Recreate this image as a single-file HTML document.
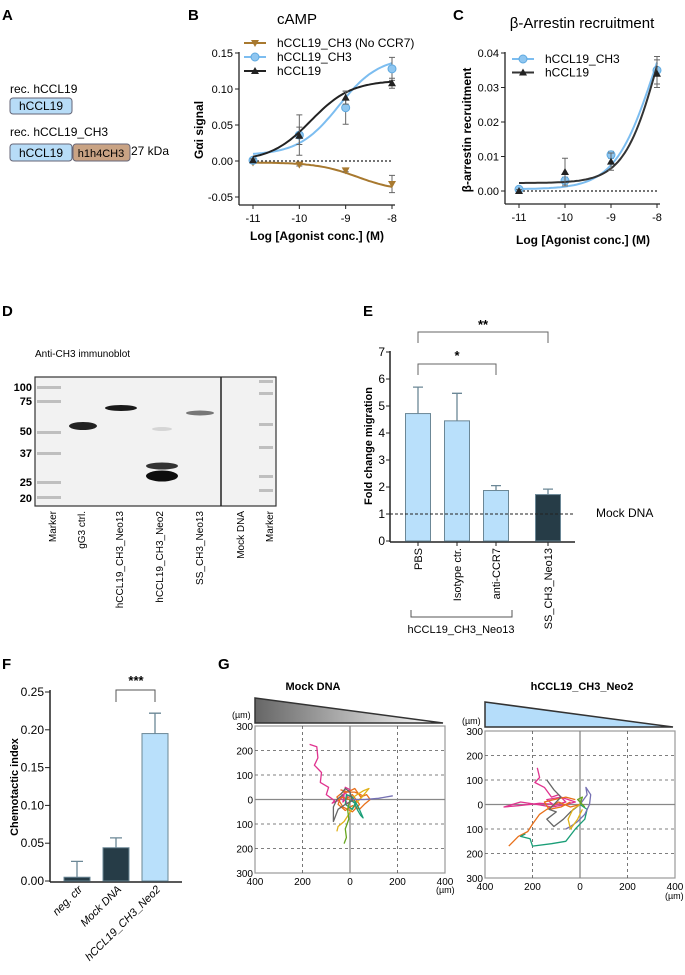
<!DOCTYPE html>
<html><head><meta charset="utf-8"><style>
html,body{margin:0;padding:0;background:#fff;overflow:hidden;}
svg{display:block;font-family:"Liberation Sans",Arial,sans-serif;}
</style></head><body>
<svg id="fig" width="685" height="975" viewBox="0 0 685 975">
<defs>
<linearGradient id="grayGrad" x1="0" x2="1" y1="0" y2="0"><stop offset="0" stop-color="#666"/><stop offset="1" stop-color="#fff"/></linearGradient>
</defs>
<g font-weight="bold" font-size="15">
<text x="2" y="20">A</text><text x="188" y="20">B</text><text x="453" y="20">C</text>
<text x="2" y="316">D</text><text x="363" y="316">E</text>
<text x="2" y="669">F</text><text x="218" y="669">G</text>
</g>
<!-- Panel A -->
<g font-size="12">
<text x="10" y="93">rec. hCCL19</text>
<rect x="10" y="98" width="62" height="16" rx="3" fill="#b7dcf7" stroke="#667" stroke-width="1"/>
<text x="41" y="110" text-anchor="middle">hCCL19</text>
<text x="10" y="136">rec. hCCL19_CH3</text>
<rect x="10" y="144" width="62" height="17" rx="3" fill="#b7dcf7" stroke="#667"/>
<text x="41" y="157" text-anchor="middle">hCCL19</text>
<rect x="73" y="144" width="57" height="17" rx="3" fill="#c9a384" stroke="#667"/>
<text x="101" y="157" text-anchor="middle" font-size="11">h1h4CH3</text>
<text x="131" y="155">27 kDa</text>
</g>
<!-- Panel B -->
<g id="panelB">
<text x="297" y="24" font-size="15" text-anchor="middle">cAMP</text>
<text transform="translate(203,130) rotate(-90)" text-anchor="middle" font-size="12" font-weight="bold">Gαi signal</text>
<text x="317" y="240" text-anchor="middle" font-size="12" font-weight="bold">Log [Agonist conc.] (M)</text>
</g>
<!-- Panel C -->
<g id="panelC">
<text x="582" y="28" font-size="15" text-anchor="middle">β-Arrestin recruitment</text>
<text transform="translate(471,130) rotate(-90)" text-anchor="middle" font-size="12" font-weight="bold">β-arrestin recruitment</text>
<text x="583" y="244" text-anchor="middle" font-size="12" font-weight="bold">Log [Agonist conc.] (M)</text>
</g>
<!-- Panel D -->
<g>
<text x="35" y="357" font-size="10">Anti-CH3 immunoblot</text>
<rect x="35" y="377" width="241" height="129" fill="#f2f2f2" stroke="#333" stroke-width="1.2"/>
<line x1="221" y1="377" x2="221" y2="506" stroke="#222" stroke-width="1.5"/>
<g fill="#aaa" opacity="0.7">
<rect x="37" y="386" width="24" height="3"/><rect x="37" y="400" width="24" height="3"/><rect x="37" y="431" width="24" height="3"/><rect x="37" y="452" width="24" height="3"/><rect x="37" y="481" width="24" height="3"/><rect x="37" y="496" width="24" height="3"/>
<rect x="259" y="380" width="14" height="3"/><rect x="259" y="392" width="14" height="3"/><rect x="259" y="423" width="14" height="3"/><rect x="259" y="446" width="14" height="3"/><rect x="259" y="475" width="14" height="3"/><rect x="259" y="489" width="14" height="3"/>
</g>
<ellipse cx="83" cy="426" rx="14" ry="4" fill="#222"/>
<ellipse cx="121" cy="408" rx="16" ry="3" fill="#1a1a1a"/>
<ellipse cx="162" cy="466" rx="16" ry="3.5" fill="#333"/>
<ellipse cx="162" cy="476" rx="16" ry="5.5" fill="#0d0d0d"/>
<ellipse cx="162" cy="429" rx="10" ry="2" fill="#d5d5d5"/>
<ellipse cx="200" cy="413" rx="14" ry="2.5" fill="#777"/>
<g font-size="11" font-weight="bold" text-anchor="end">
<text x="32" y="391">100</text><text x="32" y="405">75</text><text x="32" y="435">50</text><text x="32" y="457">37</text><text x="32" y="486">25</text><text x="32" y="502">20</text>
</g>
<g font-size="10" text-anchor="end">
<text transform="translate(56,511) rotate(-90)">Marker</text>
<text transform="translate(85,511) rotate(-90)">gG3 ctrl.</text>
<text transform="translate(123,511) rotate(-90)">hCCL19_CH3_Neo13</text>
<text transform="translate(163,511) rotate(-90)">hCCL19_CH3_Neo2</text>
<text transform="translate(203,511) rotate(-90)">SS_CH3_Neo13</text>
<text transform="translate(244,511) rotate(-90)">Mock DNA</text>
<text transform="translate(273,511) rotate(-90)">Marker</text>
</g>
</g>
<!-- Panel E -->
<g id="panelE">
<text transform="translate(372,446) rotate(-90)" text-anchor="middle" font-size="11" font-weight="bold">Fold change migration</text>
<text x="596" y="517" font-size="12">Mock DNA</text>
<path d="M411,610 V617 H512 V610" fill="none" stroke="#555"/>
<text x="461" y="633" font-size="11" text-anchor="middle">hCCL19_CH3_Neo13</text>
</g>
<!-- Panel F -->
<g id="panelF">
<text transform="translate(18,787) rotate(-90)" text-anchor="middle" font-size="11" font-weight="bold">Chemotactic index</text>
</g>
<!-- Panel G -->
<g id="panelG">
<text x="313" y="690" font-size="11" font-weight="bold" text-anchor="middle">Mock DNA</text>
<text x="582" y="690" font-size="11" font-weight="bold" text-anchor="middle">hCCL19_CH3_Neo2</text>
<polygon points="255,698 443,723 255,723" fill="url(#grayGrad)" stroke="#333" stroke-width="1.5"/>
<polygon points="485,702 673,727 485,727" fill="#b5ddfa" stroke="#333" stroke-width="1.5"/>
<text x="232" y="718" font-size="9">(µm)</text>
<text x="462" y="724" font-size="9">(µm)</text>
<text x="436" y="893" font-size="9">(µm)</text>
<text x="665" y="899" font-size="9">(µm)</text>
</g>
</svg>
<script>
const NS='http://www.w3.org/2000/svg';
function mk(parent,tag,attrs,text){const e=document.createElementNS(NS,tag);for(const k in attrs)e.setAttribute(k,attrs[k]);if(text!==undefined)e.textContent=text;parent.appendChild(e);return e;}

// ---------- Panel B data ----------
const bLogs=[-11,-10,-9,-8];
const bCCL19=[0.001,0.035,0.088,0.108];
const bCCL19Err=[0.002,0.012,0.009,0.007];
const bCH3=[0.001,0.036,0.074,0.128];
const bCH3Err=[0.002,0.028,0.023,0.016];
const bNoCCR7=[-0.002,-0.005,-0.013,-0.032];
const bNoCCR7Err=[0.001,0.002,0.002,0.012];
const bYTicks=[0.15,0.10,0.05,0.00,-0.05];
const bYTickLabels=['0.15','0.10','0.05','0.00','-0.05'];
const bFitCCL19=[0,0.112,-9.75,1.0];
const bFitCH3=[0.008,0.145,-9.15,1.0];
const bFitNoCCR7=[-0.002,-0.042,-8.75,1.0];

// ---------- Panel C data ----------
const cLogs=[-11,-10,-9,-8];
const cCH3=[0.0005,0.003,0.0105,0.035];
const cCH3Err=[0.0005,0.001,0.001,0.004];
const cCCL19=[0.0,0.0055,0.0085,0.034];
const cCCL19Err=[0.0004,0.004,0.0025,0.004];
const cYTicks=[0.04,0.03,0.02,0.01,0.00];
const cYTickLabels=['0.04','0.03','0.02','0.01','0.00'];
const cFitCH3=[0.0005,0.07,-8.05,1.0];
const cFitCCL19=[0.0023,0.075,-7.95,1.15];

// ---------- Panel E data ----------
const eCats=['PBS','Isotype ctr.','anti-CCR7','SS_CH3_Neo13'];
const eVals=[4.72,4.45,1.87,1.72];
const eErrs=[0.98,1.02,0.18,0.2];
const eYTicks=[0,1,2,3,4,5,6,7];

// ---------- Panel F data ----------
const fCats=['neg. ctr','Mock DNA','hCCL19_CH3_Neo2'];
const fVals=[0.005,0.044,0.195];
const fErrs=[0.021,0.013,0.027];
const fYTicks=[0,0.05,0.10,0.15,0.20,0.25];
const fYTickLabels=['0.00','0.05','0.10','0.15','0.20','0.25'];

// ---------- Panel G track data (µm, x right, y up) ----------
const gMockTracks=[
 {c:'#e0338f',p:[[-170,225],[-140,215],[-135,170],[-150,140],[-120,110],[-125,70],[-90,50],[-100,20],[-65,-5],[-75,-15],[-40,0],[-20,30],[-10,10],[-30,-10],[-20,50],[0,40],[-30,20],[-10,-20]]},
 {c:'#e8701a',p:[[-40,40],[-10,30],[20,45],[45,10],[70,20],[85,0],[60,-20],[40,-40],[10,-25],[-20,-45],[-50,-20],[-40,10],[0,0],[30,-10],[55,15],[20,30],[-30,30],[-55,10],[-30,-30],[10,-50],[40,-20],[10,20],[-20,0]]},
 {c:'#e0b21a',p:[[0,0],[30,20],[55,35],[80,45],[50,10],[20,-20],[-5,-60],[-25,-90],[-50,-110],[-55,-130]]},
 {c:'#1a9e77',p:[[0,0],[20,-15],[30,-40],[45,-65],[55,-75],[35,-30],[10,10],[-15,20],[-20,-20],[10,-40],[25,-10]]},
 {c:'#66a61e',p:[[0,0],[-10,-40],[-5,-80],[-20,-120],[-15,-155],[-25,-180]]},
 {c:'#7570b3',p:[[0,0],[60,0],[120,5],[180,15]]},
 {c:'#666666',p:[[-30,20],[-55,0],[-70,-30],[-70,-90],[-50,-40],[-20,-20],[10,-5],[0,30],[-20,45],[-40,20]]}];
const gNeoTracks=[
 {c:'#e0338f',p:[[-180,150],[-170,110],[-190,90],[-150,70],[-120,30],[-90,40],[-60,10],[-100,0],[-170,5],[-260,-5],[-320,-10],[-250,10],[-180,0],[-120,-10],[-60,0],[-20,10],[-80,30],[-140,20],[-100,-10]]},
 {c:'#e8701a',p:[[0,0],[-40,-10],[-90,10],[-140,-20],[-170,-40],[-200,-80],[-220,-110],[-260,-130],[-280,-150],[-300,-170]]},
 {c:'#e8701a',p:[[-20,20],[-60,30],[-110,20],[-150,10],[-130,-20],[-80,-10],[-40,10]]},
 {c:'#1a9e77',p:[[0,0],[30,-20],[20,-60],[0,-80],[-20,-100],[-60,-150],[-120,-160],[-200,-170],[-210,-140],[-250,-130],[-230,-120]]},
 {c:'#7570b3',p:[[0,0],[30,40],[25,70],[45,40],[40,0],[20,-40],[-10,-70],[-40,-90],[-60,-100]]},
 {c:'#666666',p:[[-140,100],[-110,60],[-80,30],[-130,-20],[-100,-30],[-140,-60],[-110,-90],[-70,-60],[-40,-30],[0,0]]},
 {c:'#e0b21a',p:[[0,0],[-30,-20],[-50,-60],[-40,-100],[-10,-60],[10,-20]]},
 {c:'#66a61e',p:[[0,0],[10,30],[-10,20],[20,-10]]}];
const gXTickLabels=['400','200','0','200','400'];
const gYTickLabels=['300','200','100','0','100','200','300'];

function sig(f,x){return f[0]+(f[1]-f[0])/(1+Math.pow(10,(f[2]-x)*f[3]));}

function lineChart(g,cfg){
 const xs=v=>cfg.x0+(v-(-11))/3*(cfg.x1-cfg.x0);
 const ys=v=>cfg.y0+(cfg.yMax-v)/(cfg.yMax-cfg.yMin)*(cfg.y1-cfg.y0);
 const ya=mk(g,'line',{x1:cfg.ax,y1:cfg.axTop,x2:cfg.ax,y2:cfg.axBot,stroke:'#222','stroke-width':1.3});
 
 
 const xa=mk(g,'line',{x1:cfg.ax,y1:cfg.axBot,x2:cfg.x1+3,y2:cfg.axBot,stroke:'#222','stroke-width':1.3});
 
 
 cfg.yTicks.forEach((t,i)=>{const y=ys(t);mk(g,'line',{x1:cfg.ax-4,y1:y,x2:cfg.ax,y2:y,stroke:'#222'});
  const tl=mk(g,'text',{x:cfg.ax-6,y:y+4,'text-anchor':'end','font-size':11},cfg.yLabels[i]);
  
  });
 bLogs.forEach(v=>{const x=xs(v);mk(g,'line',{x1:x,y1:cfg.axBot,x2:x,y2:cfg.axBot+4,stroke:'#222'});
  const tl=mk(g,'text',{x:x,y:cfg.axBot+17,'text-anchor':'middle','font-size':11},String(v));
  
  });
 mk(g,'line',{x1:cfg.x0,y1:ys(0),x2:cfg.x1,y2:ys(0),stroke:'#222','stroke-dasharray':'2,2','stroke-width':1.2});
 cfg.series.forEach(s=>{
  let d='';for(let i=0;i<=60;i++){const v=-11+3*i/60;d+=(i?'L':'M')+xs(v).toFixed(1)+','+ys(sig(s.fit,v)).toFixed(1);}
  const p=mk(g,'path',{d:d,fill:'none',stroke:s.color,'stroke-width':2});
  
  
  s.vals.forEach((v,i)=>{const x=xs(bLogs[i]),y=ys(v),e=s.err[i];
   mk(g,'path',{d:`M${x},${ys(v+e)}V${ys(v-e)}M${x-3},${ys(v+e)}H${x+3}M${x-3},${ys(v-e)}H${x+3}`,stroke:'#666','stroke-width':1,fill:'none'});
   let m;
   if(s.marker==='circle')m=mk(g,'circle',{cx:x,cy:y,r:4,fill:'#8fc6f0',stroke:'#5ea9e0'});
   else if(s.marker==='tri')m=mk(g,'polygon',{points:`${x},${y-4} ${x-4},${y+3} ${x+4},${y+3}`,fill:'#222'});
   else m=mk(g,'polygon',{points:`${x},${y+4} ${x-4},${y-3} ${x+4},${y-3}`,fill:s.color});
   
   
  });
 });
 cfg.series.forEach((s,i)=>{const ly=cfg.legY+i*cfg.legDy;
  const lg=mk(g,'g',{});
  
  
  mk(lg,'line',{x1:cfg.legX,y1:ly,x2:cfg.legX+22,y2:ly,stroke:s.color,'stroke-width':2});
  const x=cfg.legX+11;
  if(s.marker==='circle')mk(lg,'circle',{cx:x,cy:ly,r:4,fill:'#8fc6f0',stroke:'#5ea9e0'});
  else if(s.marker==='tri')mk(lg,'polygon',{points:`${x},${ly-4} ${x-4},${ly+3} ${x+4},${ly+3}`,fill:'#222'});
  else mk(lg,'polygon',{points:`${x},${ly+4} ${x-4},${ly-3} ${x+4},${ly-3}`,fill:s.color});
  mk(lg,'text',{x:cfg.legX+33,y:ly+4,'font-size':12},s.label);
 });
}
lineChart(document.getElementById('panelB'),{x0:253,x1:392,y0:53,y1:197,yMax:0.15,yMin:-0.05,ax:239,axTop:52,axBot:205,
 yTicks:bYTicks,yLabels:bYTickLabels,legX:244,legY:43,legDy:14,
 series:[{name:'hccl19-ch3-no-ccr7',label:'hCCL19_CH3 (No CCR7)',vals:bNoCCR7,err:bNoCCR7Err,fit:bFitNoCCR7,color:'#a8792f',marker:'down'},
 {name:'hccl19-ch3',label:'hCCL19_CH3',vals:bCH3,err:bCH3Err,fit:bFitCH3,color:'#7cbdf0',marker:'circle'},
 {name:'hccl19',label:'hCCL19',vals:bCCL19,err:bCCL19Err,fit:bFitCCL19,color:'#222',marker:'tri'}]});
lineChart(document.getElementById('panelC'),{x0:519,x1:657,y0:53,y1:191,yMax:0.04,yMin:0,ax:505,axTop:52,axBot:204,
 yTicks:cYTicks,yLabels:cYTickLabels,legX:512,legY:59,legDy:13.5,
 series:[{name:'arrestin-hccl19-ch3',label:'hCCL19_CH3',vals:cCH3,err:cCH3Err,fit:cFitCH3,color:'#7cbdf0',marker:'circle'},
 {name:'arrestin-hccl19',label:'hCCL19',vals:cCCL19,err:cCCL19Err,fit:cFitCCL19,color:'#333',marker:'tri'}]});

// Panel E
(function(){const g=document.getElementById('panelE');
 const ys=v=>541-v/7*189;const cx=[418,457,496,548];
 const ya=mk(g,'line',{x1:390,y1:351,x2:390,y2:542,stroke:'#222','stroke-width':1.5});
 
 
 const xa=mk(g,'line',{x1:390,y1:542,x2:575,y2:542,stroke:'#222','stroke-width':1.5});
 
 
 eYTicks.forEach(t=>{mk(g,'line',{x1:386,y1:ys(t),x2:390,y2:ys(t),stroke:'#222'});
  const tl=mk(g,'text',{x:385,y:ys(t)+4,'text-anchor':'end','font-size':12},String(t));
  
  });
 eVals.forEach((v,i)=>{const x=cx[i];
  mk(g,'path',{d:`M${x},${ys(v)}V${ys(v+eErrs[i])}M${x-5},${ys(v+eErrs[i])}H${x+5}`,stroke:'#6b8796','stroke-width':1.3,fill:'none'});
  const b=mk(g,'rect',{x:x-12.5,y:ys(v),width:25,height:ys(0)-ys(v),fill:i===3?'#263c47':'#b9e0fb',stroke:'#6b8796','stroke-width':1});
  
  
  mk(g,'line',{x1:x,y1:542,x2:x,y2:546,stroke:'#222'});
  const tl=mk(g,'text',{transform:`translate(${x+4},548) rotate(-90)`,'text-anchor':'end','font-size':11},eCats[i]);
  
  
 });
 mk(g,'line',{x1:390,y1:ys(1),x2:575,y2:ys(1),stroke:'#222','stroke-dasharray':'3,2'});
 mk(g,'path',{d:`M${cx[0]},375V364H${cx[2]}V375`,fill:'none',stroke:'#666'});
 mk(g,'text',{x:457,y:360,'text-anchor':'middle','font-size':13,'font-weight':'bold'},'*');
 mk(g,'path',{d:`M${cx[0]},343V332H${cx[3]}V343`,fill:'none',stroke:'#666'});
 mk(g,'text',{x:483,y:329,'text-anchor':'middle','font-size':13,'font-weight':'bold'},'**');
})();

// Panel F
(function(){const g=document.getElementById('panelF');
 const ys=v=>881-v/0.25*189;const cx=[77,116,155];
 const ya=mk(g,'line',{x1:50,y1:690,x2:50,y2:882,stroke:'#222','stroke-width':1.5});
 
 
 const xa=mk(g,'line',{x1:50,y1:882,x2:182,y2:882,stroke:'#222','stroke-width':1.5});
 
 
 fYTicks.forEach((t,i)=>{mk(g,'line',{x1:45,y1:ys(t),x2:50,y2:ys(t),stroke:'#222'});
  const tl=mk(g,'text',{x:44,y:ys(t)+4,'text-anchor':'end','font-size':12},fYTickLabels[i]);
  
  });
 fVals.forEach((v,i)=>{const x=cx[i];
  mk(g,'path',{d:`M${x},${ys(v)}V${ys(v+fErrs[i])}M${x-6},${ys(v+fErrs[i])}H${x+6}`,stroke:'#6b8796','stroke-width':1.3,fill:'none'});
  const b=mk(g,'rect',{x:x-13,y:ys(v),width:26,height:ys(0)-ys(v),fill:i===2?'#b9e0fb':'#263c47',stroke:'#6b8796'});
  
  
  const tl=mk(g,'text',{transform:`translate(${x+6},890) rotate(-45)`,'text-anchor':'end','font-size':11,'font-style':'italic'},fCats[i]);
  
  
 });
 mk(g,'path',{d:`M116,702V690H155V702`,fill:'none',stroke:'#555'});
 mk(g,'text',{x:136,y:685,'text-anchor':'middle','font-size':13,'font-weight':'bold'},'***');
})();

// Panel G
function trackPlot(g,L,R,T,B,tracks,name){
 const cx=(L+R)/2,cy=(T+B)/2;const sx=(R-L)/800,sy=(B-T)/600;
 const px=v=>cx+v*sx,py=v=>cy-v*sy;
 const box=mk(g,'rect',{x:L,y:T,width:R-L,height:B-T,fill:'#fff',stroke:'#999','stroke-width':1.2});
 
 
 [-200,200].forEach(v=>mk(g,'line',{x1:px(v),y1:T,x2:px(v),y2:B,stroke:'#555','stroke-dasharray':'3,3','stroke-width':0.8}));
 [-200,-100,100,200].forEach(v=>mk(g,'line',{x1:L,y1:py(v),x2:R,y2:py(v),stroke:'#555','stroke-dasharray':'3,3','stroke-width':0.8}));
 mk(g,'line',{x1:px(0),y1:T,x2:px(0),y2:B,stroke:'#888','stroke-width':1.3});
 mk(g,'line',{x1:L,y1:py(0),x2:R,y2:py(0),stroke:'#888','stroke-width':1.3});
 gYTickLabels.forEach((t,i)=>{const v=300-i*100;
  const tl=mk(g,'text',{x:L-2,y:py(v)+4,'text-anchor':'end','font-size':10},t);
  
  });
 gXTickLabels.forEach((t,i)=>{const v=-400+i*200;
  const tl=mk(g,'text',{x:px(v),y:B+12,'text-anchor':'middle','font-size':10},t);
  
  });
 tracks.forEach(t=>{
  const p=mk(g,'polyline',{points:t.p.map(q=>px(q[0]).toFixed(1)+','+py(q[1]).toFixed(1)).join(' '),fill:'none',stroke:t.c,'stroke-width':1.3,'stroke-linejoin':'round'});
  
  
 });
}
const pg=document.getElementById('panelG');
trackPlot(pg,255,445,726,873,gMockTracks,'mock-dna');
trackPlot(pg,485,675,731,878,gNeoTracks,'hccl19-neo2');
</script>
</body></html>
